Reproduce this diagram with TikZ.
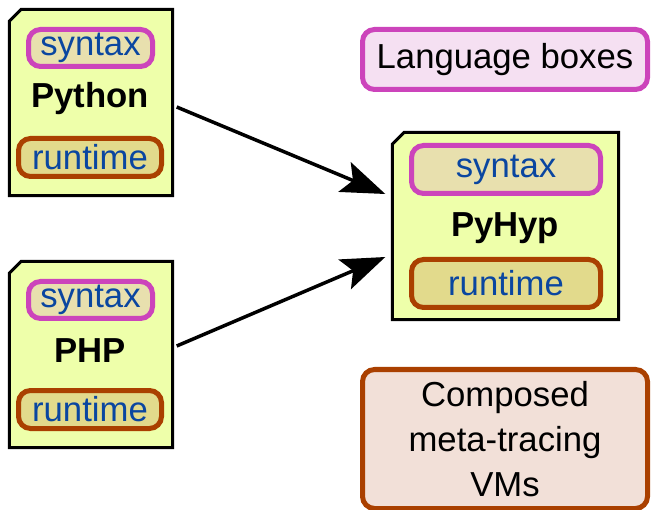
\documentclass[tikz,border=0pt]{standalone}
\usepackage{fontspec}
\setmainfont{Liberation Sans}
\usetikzlibrary{arrows.meta}

\definecolor{vmfill}{HTML}{EEFFAA}
\definecolor{synline}{HTML}{CC44BB}
\definecolor{synfill}{HTML}{E8E0AE}
\definecolor{rtline}{HTML}{AA4000}
\definecolor{rtfill}{HTML}{E2DA8C}
\definecolor{txtblue}{HTML}{0A46A0}
\definecolor{keysyn}{HTML}{F5E0F2}
\definecolor{keyrt}{HTML}{F2E0D8}

\tikzset{
  vmarea/.style={draw=none, inner sep=0pt},
  vmline/.style={draw=black, line width=3pt, fill=vmfill},
  synbox/.style={draw=synline, fill=synfill, line width=5pt, rounded corners=12pt, text=txtblue, inner sep=0pt},
  rtbox/.style={draw=rtline, fill=rtfill, line width=5pt, rounded corners=12pt, text=txtblue, inner sep=0pt},
  vmname/.style={font=\bfseries, inner sep=0pt},
  arr/.style={-{Stealth[length=44pt, width=32pt, inset=9pt]}, line width=3.5pt}
}

% box with the top left corner cut off
\newcommand{\cutbox}[1]{%
  \draw[vmline] ([yshift=-12pt]#1.north west) -- ([xshift=12pt]#1.north west)
    -- (#1.north east) -- (#1.south east) -- (#1.south west) -- cycle;}

\begin{document}
\fontsize{34.7}{45}\selectfont
\begin{tikzpicture}[x=1pt, y=-1pt]
  \useasboundingbox (0,0) rectangle (653,510);

  % Python
  \node[vmarea, minimum width=163pt, minimum height=186pt] (pybox) at (91,102.5) {};
  \cutbox{pybox}
  \node[synbox, minimum width=124pt, minimum height=37pt] (pysyn) at (90.5,48) {syntax};
  \node[vmname] (pyname) at (90,99) {Python};
  \node[rtbox, minimum width=143pt, minimum height=38pt] (pyrt) at (90,157.5) {runtime};

  % PHP
  \node[vmarea, minimum width=163pt, minimum height=186pt] (phpbox) at (91,354.5) {};
  \cutbox{phpbox}
  \node[synbox, minimum width=124pt, minimum height=37pt] (phpsyn) at (90.5,300) {syntax};
  \node[vmname] (phpname) at (90,351) {PHP};
  \node[rtbox, minimum width=143pt, minimum height=38pt] (phprt) at (90,409.5) {runtime};

  % PyHyp
  \node[vmarea, minimum width=226pt, minimum height=187pt] (hypbox) at (505.5,226) {};
  \cutbox{hypbox}
  \node[synbox, minimum width=189pt, minimum height=48pt] (hypsyn) at (506,169.5) {syntax};
  \node[vmname] (hypname) at (505,228) {PyHyp};
  \node[rtbox, minimum width=189pt, minimum height=48pt] (hyprt) at (506,283.5) {runtime};

  % key
  \node[synbox, fill=keysyn, text=black, minimum width=285pt, minimum height=60pt] (keylang) at (505,59.5) {Language boxes};
  \node[rtbox, fill=keyrt, text=black, align=center, minimum width=285pt, minimum height=139pt] (keyvm) at (505,439) {Composed\\meta-tracing\\VMs};

  \draw[arr] ([xshift=4pt, yshift=-4.5pt]pybox.east) -- ([xshift=-7pt, yshift=32pt]hypbox.west);
  \draw[arr] ([xshift=4pt, yshift=8.5pt]phpbox.east) -- ([xshift=-7pt, yshift=-31pt]hypbox.west);
\end{tikzpicture}
\end{document}
